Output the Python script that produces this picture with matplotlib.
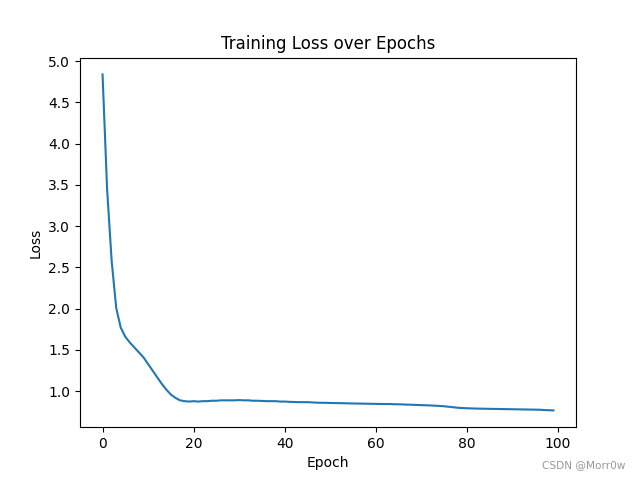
import matplotlib
matplotlib.use("Agg")
import matplotlib.pyplot as plt

epochs = list(range(100))
losses = [4.84, 3.45, 2.58, 2.01, 1.77, 1.66, 1.59, 1.53, 1.47, 1.41,
          1.33, 1.25, 1.17, 1.09, 1.02, 0.96, 0.92, 0.89, 0.88, 0.875,
          0.88, 0.875, 0.88, 0.88, 0.885, 0.885, 0.89, 0.89, 0.89, 0.89,
          0.893, 0.89, 0.89, 0.885, 0.885, 0.883, 0.88, 0.88, 0.88, 0.875,
          0.875, 0.872, 0.87, 0.868, 0.868, 0.868, 0.865, 0.862, 0.86, 0.86,
          0.858, 0.857, 0.856, 0.855, 0.853, 0.852, 0.851, 0.85, 0.849, 0.848,
          0.847, 0.846, 0.845, 0.845, 0.843, 0.842, 0.84, 0.838, 0.836, 0.834,
          0.832, 0.83, 0.828, 0.825, 0.822, 0.818, 0.812, 0.806, 0.80, 0.797,
          0.794, 0.792, 0.79, 0.789, 0.788, 0.787, 0.786, 0.785, 0.784, 0.783,
          0.782, 0.781, 0.78, 0.779, 0.778, 0.777, 0.776, 0.772, 0.77, 0.768]

fig = plt.figure(figsize=(6.4, 4.8), dpi=100)
plt.plot(epochs, losses)
plt.title("Training Loss over Epochs")
plt.xlabel("Epoch")
plt.ylabel("Loss")
fig.text(0.977, 0.02, "CSDN @Morr0w", ha="right", va="bottom", fontsize=7.6, color="#999999")
plt.savefig("out.png", dpi=100)
